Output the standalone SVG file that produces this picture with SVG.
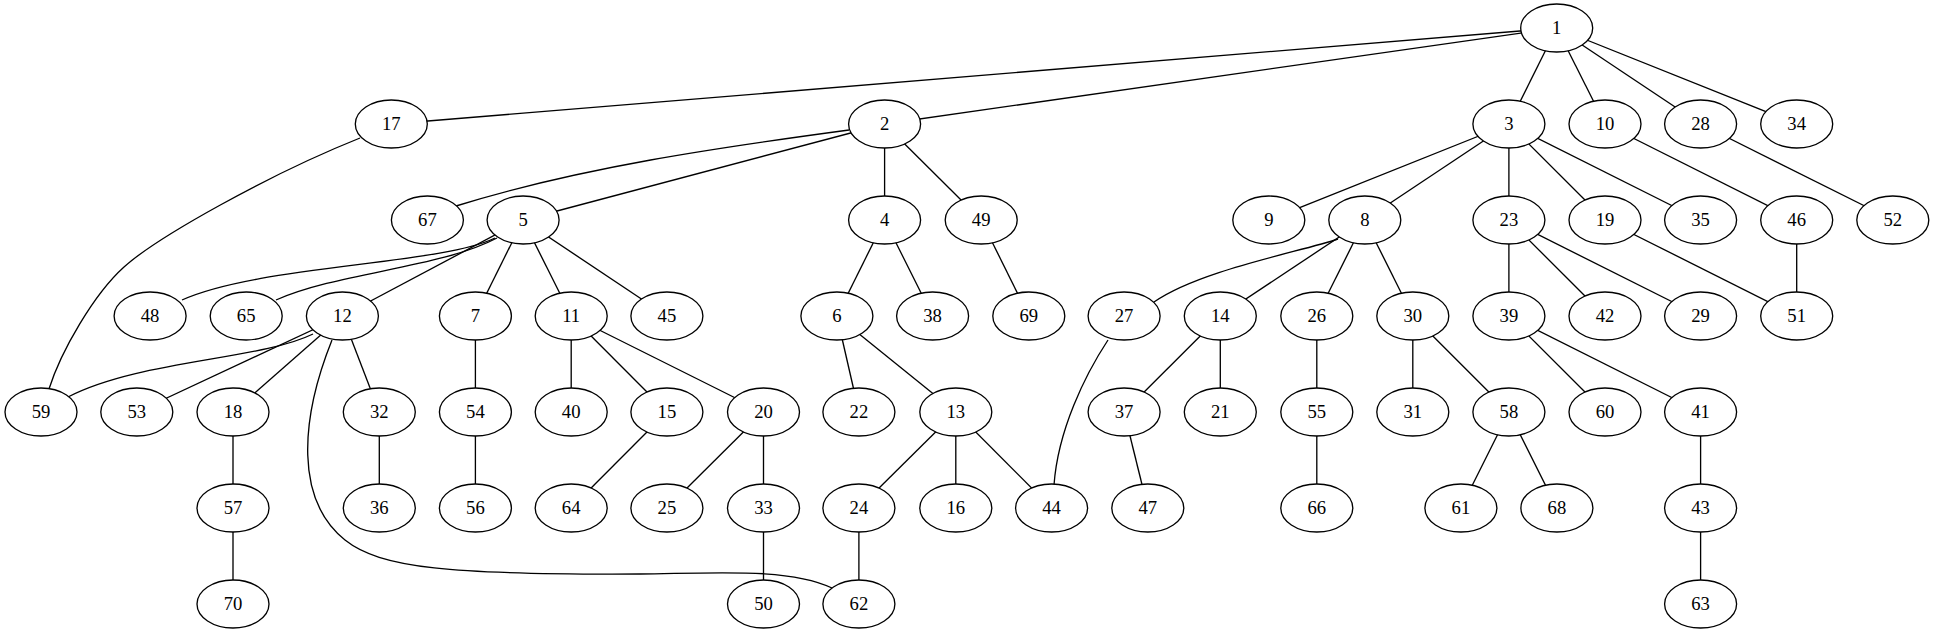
<svg xmlns="http://www.w3.org/2000/svg" width="1935" height="635" viewBox="0 0 1935 635">
<style>
.e line, .e path { stroke:#000; stroke-width:1.33; fill:none; }
.n ellipse { fill:#fff; stroke:#000; stroke-width:1.33; }
.n text { font-family:"Liberation Serif","Times New Roman",serif; font-size:18.67px; text-anchor:middle; fill:#000; }
</style>
<rect width="1935" height="635" fill="#fff"/>
<g id="edges" class="e">
<line x1="1556.7" y1="28" x2="391.3" y2="124"/>
<line x1="1556.7" y1="28" x2="884.6" y2="124"/>
<line x1="1556.7" y1="28" x2="1508.9" y2="124"/>
<line x1="1556.7" y1="28" x2="1605" y2="124"/>
<line x1="1556.7" y1="28" x2="1700.6" y2="124"/>
<line x1="1556.7" y1="28" x2="1796.7" y2="124"/>
<path d="M360,138 C270,174 157.4,236.9 124,267 C94,294 61,351 49,389"/>
<path d="M849,130 C720,147.3 580,167.4 456,206"/>
<line x1="884.6" y1="124" x2="523.1" y2="220"/>
<line x1="884.6" y1="124" x2="884.6" y2="220"/>
<line x1="884.6" y1="124" x2="981.2" y2="220"/>
<line x1="1508.9" y1="124" x2="1268.8" y2="220"/>
<line x1="1508.9" y1="124" x2="1364.8" y2="220"/>
<line x1="1508.9" y1="124" x2="1508.9" y2="220"/>
<line x1="1508.9" y1="124" x2="1605" y2="220"/>
<line x1="1508.9" y1="124" x2="1700.6" y2="220"/>
<line x1="1605" y1="124" x2="1796.7" y2="220"/>
<line x1="1700.6" y1="124" x2="1892.8" y2="220"/>
<path d="M495,238 C440,265 260,265 182,300"/>
<path d="M497,238 C440,268 340,272 276,300"/>
<line x1="523.1" y1="220" x2="342.4" y2="316"/>
<line x1="523.1" y1="220" x2="475.4" y2="316"/>
<line x1="523.1" y1="220" x2="571.2" y2="316"/>
<line x1="523.1" y1="220" x2="666.9" y2="316"/>
<line x1="884.6" y1="220" x2="836.9" y2="316"/>
<line x1="884.6" y1="220" x2="932.6" y2="316"/>
<line x1="981.2" y1="220" x2="1028.8" y2="316"/>
<path d="M1338,239 C1300,252 1200,270 1154,302"/>
<line x1="1364.8" y1="220" x2="1220.3" y2="316"/>
<line x1="1364.8" y1="220" x2="1316.8" y2="316"/>
<line x1="1364.8" y1="220" x2="1412.8" y2="316"/>
<line x1="1508.9" y1="220" x2="1508.9" y2="316"/>
<line x1="1508.9" y1="220" x2="1605" y2="316"/>
<line x1="1508.9" y1="220" x2="1700.6" y2="316"/>
<line x1="1605" y1="220" x2="1796.7" y2="316"/>
<line x1="1796.7" y1="220" x2="1796.7" y2="316"/>
<path d="M313,334 C260,360 140,360 68,397"/>
<line x1="342.4" y1="316" x2="136.8" y2="412"/>
<line x1="342.4" y1="316" x2="233" y2="412"/>
<line x1="342.4" y1="316" x2="379.3" y2="412"/>
<path d="M332,340 C300,420 295,500 345,540 C380,568 450,575 640,574 C720,573 790,568 832,588"/>
<line x1="475.4" y1="316" x2="475.4" y2="412"/>
<line x1="571.2" y1="316" x2="571.2" y2="412"/>
<line x1="571.2" y1="316" x2="666.9" y2="412"/>
<line x1="571.2" y1="316" x2="763.5" y2="412"/>
<line x1="836.9" y1="316" x2="858.9" y2="412"/>
<line x1="836.9" y1="316" x2="955.8" y2="412"/>
<path d="M1108,340 C1085,375 1058,430 1054,485"/>
<line x1="1220.3" y1="316" x2="1124.1" y2="412"/>
<line x1="1220.3" y1="316" x2="1220.3" y2="412"/>
<line x1="1316.8" y1="316" x2="1316.8" y2="412"/>
<line x1="1412.8" y1="316" x2="1412.8" y2="412"/>
<line x1="1412.8" y1="316" x2="1508.9" y2="412"/>
<line x1="1508.9" y1="316" x2="1605" y2="412"/>
<line x1="1508.9" y1="316" x2="1700.6" y2="412"/>
<line x1="475.4" y1="412" x2="475.4" y2="508"/>
<line x1="666.9" y1="412" x2="571.2" y2="508"/>
<line x1="763.5" y1="412" x2="666.9" y2="508"/>
<line x1="763.5" y1="412" x2="763.5" y2="508"/>
<line x1="955.8" y1="412" x2="858.9" y2="508"/>
<line x1="955.8" y1="412" x2="955.8" y2="508"/>
<line x1="955.8" y1="412" x2="1051.6" y2="508"/>
<line x1="1124.1" y1="412" x2="1147.8" y2="508"/>
<line x1="1316.8" y1="412" x2="1316.8" y2="508"/>
<line x1="1508.9" y1="412" x2="1460.9" y2="508"/>
<line x1="1508.9" y1="412" x2="1556.9" y2="508"/>
<line x1="1700.6" y1="412" x2="1700.6" y2="508"/>
<line x1="233" y1="412" x2="233" y2="508"/>
<line x1="379.3" y1="412" x2="379.3" y2="508"/>
<line x1="233" y1="508" x2="233" y2="604"/>
<line x1="763.5" y1="508" x2="763.5" y2="604"/>
<line x1="858.9" y1="508" x2="858.9" y2="604"/>
<line x1="1700.6" y1="508" x2="1700.6" y2="604"/>
</g>
<g id="node1" class="n"><ellipse cx="1556.7" cy="28" rx="36" ry="24"/><text x="1556.7" y="33.6">1</text></g>
<g id="node17" class="n"><ellipse cx="391.3" cy="124" rx="36" ry="24"/><text x="391.3" y="129.6">17</text></g>
<g id="node2" class="n"><ellipse cx="884.6" cy="124" rx="36" ry="24"/><text x="884.6" y="129.6">2</text></g>
<g id="node3" class="n"><ellipse cx="1508.9" cy="124" rx="36" ry="24"/><text x="1508.9" y="129.6">3</text></g>
<g id="node10" class="n"><ellipse cx="1605" cy="124" rx="36" ry="24"/><text x="1605" y="129.6">10</text></g>
<g id="node28" class="n"><ellipse cx="1700.6" cy="124" rx="36" ry="24"/><text x="1700.6" y="129.6">28</text></g>
<g id="node34" class="n"><ellipse cx="1796.7" cy="124" rx="36" ry="24"/><text x="1796.7" y="129.6">34</text></g>
<g id="node67" class="n"><ellipse cx="427.4" cy="220" rx="36" ry="24"/><text x="427.4" y="225.6">67</text></g>
<g id="node5" class="n"><ellipse cx="523.1" cy="220" rx="36" ry="24"/><text x="523.1" y="225.6">5</text></g>
<g id="node4" class="n"><ellipse cx="884.6" cy="220" rx="36" ry="24"/><text x="884.6" y="225.6">4</text></g>
<g id="node49" class="n"><ellipse cx="981.2" cy="220" rx="36" ry="24"/><text x="981.2" y="225.6">49</text></g>
<g id="node9" class="n"><ellipse cx="1268.8" cy="220" rx="36" ry="24"/><text x="1268.8" y="225.6">9</text></g>
<g id="node8" class="n"><ellipse cx="1364.8" cy="220" rx="36" ry="24"/><text x="1364.8" y="225.6">8</text></g>
<g id="node23" class="n"><ellipse cx="1508.9" cy="220" rx="36" ry="24"/><text x="1508.9" y="225.6">23</text></g>
<g id="node19" class="n"><ellipse cx="1605" cy="220" rx="36" ry="24"/><text x="1605" y="225.6">19</text></g>
<g id="node35" class="n"><ellipse cx="1700.6" cy="220" rx="36" ry="24"/><text x="1700.6" y="225.6">35</text></g>
<g id="node46" class="n"><ellipse cx="1796.7" cy="220" rx="36" ry="24"/><text x="1796.7" y="225.6">46</text></g>
<g id="node52" class="n"><ellipse cx="1892.8" cy="220" rx="36" ry="24"/><text x="1892.8" y="225.6">52</text></g>
<g id="node48" class="n"><ellipse cx="150.1" cy="316" rx="36" ry="24"/><text x="150.1" y="321.6">48</text></g>
<g id="node65" class="n"><ellipse cx="246.2" cy="316" rx="36" ry="24"/><text x="246.2" y="321.6">65</text></g>
<g id="node12" class="n"><ellipse cx="342.4" cy="316" rx="36" ry="24"/><text x="342.4" y="321.6">12</text></g>
<g id="node7" class="n"><ellipse cx="475.4" cy="316" rx="36" ry="24"/><text x="475.4" y="321.6">7</text></g>
<g id="node11" class="n"><ellipse cx="571.2" cy="316" rx="36" ry="24"/><text x="571.2" y="321.6">11</text></g>
<g id="node45" class="n"><ellipse cx="666.9" cy="316" rx="36" ry="24"/><text x="666.9" y="321.6">45</text></g>
<g id="node6" class="n"><ellipse cx="836.9" cy="316" rx="36" ry="24"/><text x="836.9" y="321.6">6</text></g>
<g id="node38" class="n"><ellipse cx="932.6" cy="316" rx="36" ry="24"/><text x="932.6" y="321.6">38</text></g>
<g id="node69" class="n"><ellipse cx="1028.8" cy="316" rx="36" ry="24"/><text x="1028.8" y="321.6">69</text></g>
<g id="node27" class="n"><ellipse cx="1124.1" cy="316" rx="36" ry="24"/><text x="1124.1" y="321.6">27</text></g>
<g id="node14" class="n"><ellipse cx="1220.3" cy="316" rx="36" ry="24"/><text x="1220.3" y="321.6">14</text></g>
<g id="node26" class="n"><ellipse cx="1316.8" cy="316" rx="36" ry="24"/><text x="1316.8" y="321.6">26</text></g>
<g id="node30" class="n"><ellipse cx="1412.8" cy="316" rx="36" ry="24"/><text x="1412.8" y="321.6">30</text></g>
<g id="node39" class="n"><ellipse cx="1508.9" cy="316" rx="36" ry="24"/><text x="1508.9" y="321.6">39</text></g>
<g id="node42" class="n"><ellipse cx="1605" cy="316" rx="36" ry="24"/><text x="1605" y="321.6">42</text></g>
<g id="node29" class="n"><ellipse cx="1700.6" cy="316" rx="36" ry="24"/><text x="1700.6" y="321.6">29</text></g>
<g id="node51" class="n"><ellipse cx="1796.7" cy="316" rx="36" ry="24"/><text x="1796.7" y="321.6">51</text></g>
<g id="node59" class="n"><ellipse cx="41" cy="412" rx="36" ry="24"/><text x="41" y="417.6">59</text></g>
<g id="node53" class="n"><ellipse cx="136.8" cy="412" rx="36" ry="24"/><text x="136.8" y="417.6">53</text></g>
<g id="node18" class="n"><ellipse cx="233" cy="412" rx="36" ry="24"/><text x="233" y="417.6">18</text></g>
<g id="node32" class="n"><ellipse cx="379.3" cy="412" rx="36" ry="24"/><text x="379.3" y="417.6">32</text></g>
<g id="node54" class="n"><ellipse cx="475.4" cy="412" rx="36" ry="24"/><text x="475.4" y="417.6">54</text></g>
<g id="node40" class="n"><ellipse cx="571.2" cy="412" rx="36" ry="24"/><text x="571.2" y="417.6">40</text></g>
<g id="node15" class="n"><ellipse cx="666.9" cy="412" rx="36" ry="24"/><text x="666.9" y="417.6">15</text></g>
<g id="node20" class="n"><ellipse cx="763.5" cy="412" rx="36" ry="24"/><text x="763.5" y="417.6">20</text></g>
<g id="node22" class="n"><ellipse cx="858.9" cy="412" rx="36" ry="24"/><text x="858.9" y="417.6">22</text></g>
<g id="node13" class="n"><ellipse cx="955.8" cy="412" rx="36" ry="24"/><text x="955.8" y="417.6">13</text></g>
<g id="node37" class="n"><ellipse cx="1124.1" cy="412" rx="36" ry="24"/><text x="1124.1" y="417.6">37</text></g>
<g id="node21" class="n"><ellipse cx="1220.3" cy="412" rx="36" ry="24"/><text x="1220.3" y="417.6">21</text></g>
<g id="node55" class="n"><ellipse cx="1316.8" cy="412" rx="36" ry="24"/><text x="1316.8" y="417.6">55</text></g>
<g id="node31" class="n"><ellipse cx="1412.8" cy="412" rx="36" ry="24"/><text x="1412.8" y="417.6">31</text></g>
<g id="node58" class="n"><ellipse cx="1508.9" cy="412" rx="36" ry="24"/><text x="1508.9" y="417.6">58</text></g>
<g id="node60" class="n"><ellipse cx="1605" cy="412" rx="36" ry="24"/><text x="1605" y="417.6">60</text></g>
<g id="node41" class="n"><ellipse cx="1700.6" cy="412" rx="36" ry="24"/><text x="1700.6" y="417.6">41</text></g>
<g id="node57" class="n"><ellipse cx="233" cy="508" rx="36" ry="24"/><text x="233" y="513.6">57</text></g>
<g id="node36" class="n"><ellipse cx="379.3" cy="508" rx="36" ry="24"/><text x="379.3" y="513.6">36</text></g>
<g id="node56" class="n"><ellipse cx="475.4" cy="508" rx="36" ry="24"/><text x="475.4" y="513.6">56</text></g>
<g id="node64" class="n"><ellipse cx="571.2" cy="508" rx="36" ry="24"/><text x="571.2" y="513.6">64</text></g>
<g id="node25" class="n"><ellipse cx="666.9" cy="508" rx="36" ry="24"/><text x="666.9" y="513.6">25</text></g>
<g id="node33" class="n"><ellipse cx="763.5" cy="508" rx="36" ry="24"/><text x="763.5" y="513.6">33</text></g>
<g id="node24" class="n"><ellipse cx="858.9" cy="508" rx="36" ry="24"/><text x="858.9" y="513.6">24</text></g>
<g id="node16" class="n"><ellipse cx="955.8" cy="508" rx="36" ry="24"/><text x="955.8" y="513.6">16</text></g>
<g id="node44" class="n"><ellipse cx="1051.6" cy="508" rx="36" ry="24"/><text x="1051.6" y="513.6">44</text></g>
<g id="node47" class="n"><ellipse cx="1147.8" cy="508" rx="36" ry="24"/><text x="1147.8" y="513.6">47</text></g>
<g id="node66" class="n"><ellipse cx="1316.8" cy="508" rx="36" ry="24"/><text x="1316.8" y="513.6">66</text></g>
<g id="node61" class="n"><ellipse cx="1460.9" cy="508" rx="36" ry="24"/><text x="1460.9" y="513.6">61</text></g>
<g id="node68" class="n"><ellipse cx="1556.9" cy="508" rx="36" ry="24"/><text x="1556.9" y="513.6">68</text></g>
<g id="node43" class="n"><ellipse cx="1700.6" cy="508" rx="36" ry="24"/><text x="1700.6" y="513.6">43</text></g>
<g id="node70" class="n"><ellipse cx="233" cy="604" rx="36" ry="24"/><text x="233" y="609.6">70</text></g>
<g id="node50" class="n"><ellipse cx="763.5" cy="604" rx="36" ry="24"/><text x="763.5" y="609.6">50</text></g>
<g id="node62" class="n"><ellipse cx="858.9" cy="604" rx="36" ry="24"/><text x="858.9" y="609.6">62</text></g>
<g id="node63" class="n"><ellipse cx="1700.6" cy="604" rx="36" ry="24"/><text x="1700.6" y="609.6">63</text></g>
</svg>
